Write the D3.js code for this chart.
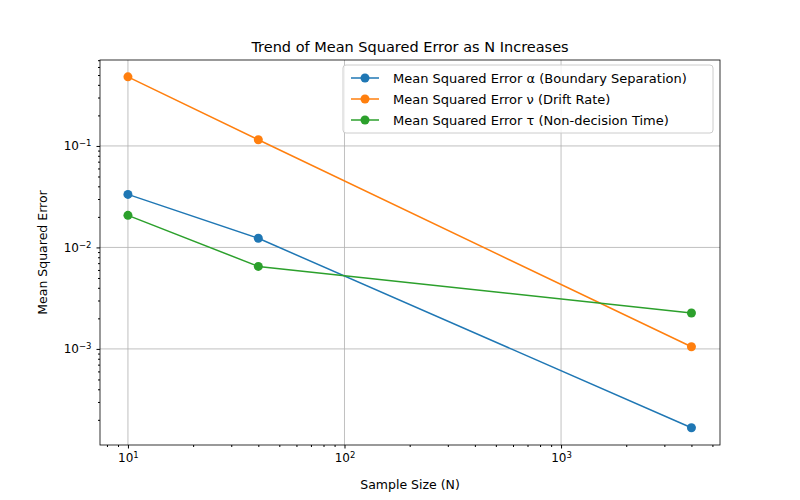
<!DOCTYPE html>
<html><head><meta charset="utf-8">
<script src="https://cdn.jsdelivr.net/npm/d3@7"></script>
<style>body{margin:0;background:#fff}text{font-family:"DejaVu Sans",sans-serif}</style>
</head><body><div id="chart"></div>
<script>
const sizes = [10, 40, 4000];
const seriesNames = ["Mean Squared Error α (Boundary Separation)", "Mean Squared Error ν (Drift Rate)", "Mean Squared Error τ (Non-decision Time)"];
const mseAlpha = [0.0333, 0.0123, 0.000167];
const mseNu = [0.48, 0.115, 0.00105];
const mseTau = [0.0207, 0.0065, 0.00226];
const colors = ["#1f77b4", "#ff7f0e", "#2ca02c"];
const xTicks = [10, 100, 1000];
const yTicks = [0.001, 0.01, 0.1];
const expOf = {10: "1", 100: "2", 1000: "3", 0.001: "−3", 0.01: "−2", 0.1: "−1"};

const w = 800, h = 500;
const m = {l: 100, r: 80, t: 60, b: 55};
const svg = d3.select("#chart").append("svg").attr("width", w).attr("height", h);

const x = d3.scaleLog().domain([7.43, 5420]).range([m.l, w - m.r]);
const y = d3.scaleLog().domain([0.000113, 0.703]).range([h - m.b, m.t]);

//grid
svg.append("g").selectAll("line").data(xTicks).join("line")
  .attr("x1", d => x(d)).attr("x2", d => x(d)).attr("y1", m.t).attr("y2", h - m.b)
  .attr("stroke", "#b0b0b0").attr("stroke-width", 0.8);
svg.append("g").selectAll("line").data(yTicks).join("line")
  .attr("y1", d => y(d)).attr("y2", d => y(d)).attr("x1", m.l).attr("x2", w - m.r)
  .attr("stroke", "#b0b0b0").attr("stroke-width", 0.8);

//axes
function styleAxis(g, major, isX) {
  g.select(".domain").remove();
  g.selectAll(".tick").each(function(d) {
    const tick = d3.select(this);
    const t = tick.select("text");
    if (!major.includes(d)) {
      t.text("");
      tick.select("line").attr(isX ? "y2" : "x2", isX ? 2 : -2);
      return;
    }
    t.text("10").attr("font-size", 12).attr("fill", "#000")
      .append("tspan").attr("dy", "-0.5em").attr("font-size", 8.5).text(expOf[d]);
  });
  g.selectAll(".tick line").attr("stroke", "#000");
}
const xg = svg.append("g").attr("transform", `translate(0,${h - m.b})`)
  .call(d3.axisBottom(x).tickSize(3.5).tickPadding(5));
styleAxis(xg, xTicks, true);
const yg = svg.append("g").attr("transform", `translate(${m.l},0)`)
  .call(d3.axisLeft(y).tickSize(3.5).tickPadding(5));
styleAxis(yg, yTicks, false);

svg.append("rect").attr("x", m.l).attr("y", m.t).attr("width", w - m.l - m.r).attr("height", h - m.t - m.b)
  .attr("fill", "none").attr("stroke", "#000").attr("stroke-width", 0.8);

//lines
const allSeries = [mseAlpha, mseNu, mseTau];
const line = d3.line().x((d, i) => x(sizes[i])).y(d => y(d));
allSeries.forEach((s, k) => {
  svg.append("path").attr("d", line(s)).attr("fill", "none").attr("stroke", colors[k]).attr("stroke-width", 1.5);
  svg.append("g").selectAll("circle").data(s).join("circle")
    .attr("cx", (d, i) => x(sizes[i])).attr("cy", d => y(d)).attr("r", 4.5).attr("fill", colors[k]);
});

//labels
svg.append("text").attr("x", (m.l + w - m.r) / 2).attr("y", 52).attr("text-anchor", "middle")
  .attr("font-size", 14.5).text("Trend of Mean Squared Error as N Increases");
svg.append("text").attr("x", (m.l + w - m.r) / 2).attr("y", 489).attr("text-anchor", "middle")
  .attr("font-size", 12.5).text("Sample Size (N)");
svg.append("text").attr("transform", `translate(47,${(m.t + h - m.b) / 2}) rotate(-90)`).attr("text-anchor", "middle")
  .attr("font-size", 12.5).text("Mean Squared Error");

//legend
const lg = svg.append("g").attr("transform", "translate(343,65)");
lg.append("rect").attr("width", 370).attr("height", 68).attr("rx", 3).attr("fill", "#fff")
  .attr("fill-opacity", 0.8).attr("stroke", "#ccc");
seriesNames.forEach((n, k) => {
  const yy = 13 + k * 21;
  lg.append("line").attr("x1", 8).attr("x2", 36).attr("y1", yy).attr("y2", yy).attr("stroke", colors[k]).attr("stroke-width", 1.5);
  lg.append("circle").attr("cx", 22).attr("cy", yy).attr("r", 4.5).attr("fill", colors[k]);
  lg.append("text").attr("x", 50).attr("y", yy + 4.5).attr("font-size", 13).text(n);
});
</script></body></html>
